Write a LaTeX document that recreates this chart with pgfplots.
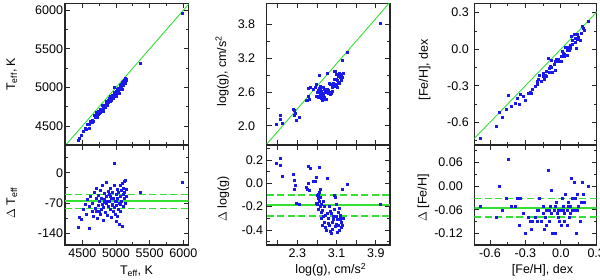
\documentclass[border=0pt]{standalone}
\usepackage{fontspec}
\setmainfont{Liberation Sans}
\usepackage{pgfplots}
\pgfplotsset{compat=1.18}
\definecolor{gl}{RGB}{50,225,50}
\definecolor{pt}{RGB}{25,25,235}
\newcommand{\eff}{\textsubscript{eff}}
\pgfplotsset{
  panel/.style={
    scale only axis, anchor=south west,
    axis line style={line width=1.1pt, black!85},
    every tick/.style={line width=0.8pt, black!85},
    major tick length=5pt, minor tick length=3pt,
    tick align=inside,
    font=\fontsize{12.5}{15}\selectfont,
    every tick label/.append style={font=\fontsize{12.5}{15}\selectfont},
  },
  pts/.style={only marks, mark=square*, mark size=1.0pt, color=pt},
  oneline/.style={draw=gl, line width=0.9pt, mark=none},
  meanline/.style={draw=gl, line width=1.8pt, mark=none},
  sigline/.style={draw=gl, line width=1.4pt, mark=none, dash pattern=on 7pt off 3.5pt},
}
\begin{document}
\begin{tikzpicture}
\path[use as bounding box] (0,0) rectangle (600pt,279pt);
%% ---------------- column 1 : Teff ----------------
\begin{axis}[panel, at={(65pt,134pt)}, width=123.7pt, height=141.7pt,
  xmin=4243, xmax=6080, ymin=4254, ymax=6091,
  xtick={4500,5000,5500,6000}, xticklabels={}, minor xtick={4750,5250,5750},
  ytick={4500,5000,5500,6000}, yticklabels={4500,5000,5500,6000}, minor ytick={4750,5250,5750},
  yticklabel style={xshift=1.5pt},
  ylabel={T\eff, K}, ylabel style={at={(axis description cs:-0.404,0.5)}, anchor=base}]
\addplot[oneline] coordinates {(4200,4200) (6200,6200)};
\addplot[pts] coordinates {
(4440,4314) (4450,4347) (4490,4383) (4595,4467) (4520,4435) (4540,4468) (4560,4465) (4580,4518)
(4600,4522) (4620,4565) (4640,4550) (4650,4580) (4660,4560) (4680,4635) (4690,4608) (4700,4640)
(4710,4675) (4720,4615) (4730,4655) (4740,4688) (4750,4662) (4755,4690) (4760,4720) (4770,4675)
(4780,4722) (4790,4718) (4800,4770) (4805,4695) (4810,4730) (4820,4772) (4830,4768) (4840,4748)
(4850,4827) (4855,4785) (4860,4805) (4870,4772) (4880,4838) (4890,4813) (4900,4835) (4905,4855)
(4910,4825) (4920,4885) (4930,4870) (4935,4833) (4940,4868) (4950,4905) (4955,4867) (4960,4902)
(4970,4942) (4975,4998) (4980,4900) (4985,4920) (4990,4895) (5000,4950) (5005,4893) (5010,4935)
(5015,4977) (5020,4920) (5025,4965) (5030,4945) (5040,4995) (5045,4927) (5050,4980) (5060,5030)
(5065,5010) (5070,4980) (5080,5040) (5085,5020) (5090,5065) (5095,4972) (5100,5050) (5105,5027)
(5110,5075) (5115,5055) (5120,5100) (5125,5080) (5130,5060) (5140,5122) (5145,5107) (5150,5095)
(5360,5314) (5990,5968) (4870,4805) (4780,4695) (4950,4875) (5000,4935) (4700,4610) (4920,4865)
(5060,4988) (4820,4752)};
\end{axis}
\begin{axis}[panel, at={(65pt,34pt)}, width=123.7pt, height=100pt,
  xmin=4243, xmax=6080, ymin=-167, ymax=64,
  xtick={4500,5000,5500,6000}, xticklabels={4500,5000,5500,6000}, minor xtick={4750,5250,5750},
  ytick={-140,-70,0}, yticklabels={-140,-70,0}, minor ytick={-105,-35,35},
  yticklabel style={xshift=1.5pt},
  ylabel={$\Delta$ T\eff}, ylabel style={at={(axis description cs:-0.404,0.42)}, anchor=base},
  xlabel={T\eff, K}, xlabel style={at={(axis description cs:0.578,-0.29)}, anchor=base}]
\addplot[sigline] coordinates {(4243,-50) (6080,-50)};
\addplot[sigline] coordinates {(4243,-83) (6080,-83)};
\addplot[meanline] coordinates {(4243,-66) (6080,-66)};
\addplot[pts] coordinates {
(4440,-126) (4450,-103) (4490,-107) (4595,-128) (4520,-85) (4540,-72) (4560,-95) (4580,-62)
(4600,-78) (4620,-55) (4640,-90) (4650,-70) (4660,-100) (4680,-45) (4690,-82) (4700,-60)
(4710,-35) (4720,-105) (4730,-75) (4740,-52) (4750,-88) (4755,-65) (4760,-40) (4770,-95)
(4780,-58) (4790,-72) (4800,-30) (4805,-110) (4810,-80) (4820,-48) (4830,-62) (4840,-92)
(4850,-23) (4855,-70) (4860,-55) (4870,-98) (4880,-42) (4890,-77) (4900,-65) (4905,-50)
(4910,-85) (4920,-35) (4930,-60) (4935,-102) (4940,-72) (4950,-45) (4955,-88) (4960,-58)
(4970,-28) (4975,23) (4980,-80) (4985,-65) (4990,-95) (5000,-50) (5005,-112) (5010,-75)
(5015,-38) (5020,-100) (5025,-60) (5030,-85) (5040,-45) (5045,-118) (5050,-70) (5060,-30)
(5065,-55) (5070,-90) (5080,-40) (5085,-65) (5090,-25) (5095,-123) (5100,-50) (5105,-78)
(5110,-35) (5115,-60) (5120,-20) (5125,-45) (5130,-70) (5140,-18) (5145,-38) (5150,-55)
(5360,-46) (5990,-22) (4870,-65) (4780,-85) (4950,-75) (5000,-65) (4700,-90) (4920,-55)
(5060,-72) (4820,-68)};
\end{axis}
%% ---------------- column 2 : log g ----------------
\begin{axis}[panel, at={(266.7pt,134pt)}, width=123.3pt, height=141.7pt,
  xmin=1.675, xmax=4.19, ymin=1.66, ymax=4.17,
  xtick={1.9,2.3,2.7,3.1,3.5,3.9}, xticklabels={},
  ytick={2.0,2.6,3.2,3.8}, yticklabels={2.0,2.6,3.2,3.8}, minor ytick={2.3,2.9,3.5},
  yticklabel style={xshift=-8pt},
  ylabel={log(g), cm/s\textsuperscript{2}}, ylabel style={at={(axis description cs:-0.33,0.52)}, anchor=base}]
\addplot[oneline] coordinates {(1.5,1.5) (4.5,4.5)};
\addplot[pts] coordinates {
(1.86,2.03) (1.96,2.18) (1.95,2.11) (1.99,2.05) (2.22,2.30) (2.24,2.27) (2.25,2.23) (2.24,2.19)
(2.27,2.10) (2.33,2.15) (2.52,2.67) (2.56,2.69) (2.75,2.89) (2.48,2.45) (2.50,2.45) (2.54,2.48)
(2.53,2.53) (2.63,2.65) (2.66,2.68) (2.68,2.73) (2.90,2.94) (2.70,2.60) (2.72,2.59) (2.74,2.59)
(2.71,2.53) (2.76,2.56) (2.73,2.51) (2.78,2.53) (2.80,2.57) (2.82,2.54) (2.79,2.49) (2.84,2.51)
(2.81,2.45) (2.86,2.48) (2.88,2.48) (2.85,2.65) (2.75,2.67) (2.69,2.52) (2.77,2.65) (2.83,2.68)
(2.90,2.64) (2.93,2.63) (2.95,2.59) (2.97,2.56) (3.00,2.57) (3.02,2.69) (3.04,2.76) (3.06,2.96)
(3.08,2.96) (3.05,2.83) (3.10,2.92) (3.12,2.81) (3.14,2.78) (3.16,2.76) (3.18,2.89) (3.20,2.87)
(3.13,2.88) (3.15,2.94) (3.19,2.81) (3.21,3.16) (3.31,3.30) (3.99,3.81) (2.98,2.74) (3.01,2.62)
(3.09,2.74) (3.11,2.69) (3.17,2.86) (3.03,2.72) (2.92,2.58) (2.87,2.60) (3.22,2.86) (3.07,2.70)
(2.96,2.76) (2.76,2.71) (3.00,2.74) (3.18,2.91) (3.23,2.93) (2.79,2.61) (2.72,2.63) (3.10,2.82)};
\end{axis}
\begin{axis}[panel, at={(266.7pt,34pt)}, width=123.3pt, height=100pt,
  xmin=1.675, xmax=4.19, ymin=-0.529, ymax=0.329,
  xtick={1.9,2.3,2.7,3.1,3.5,3.9}, xticklabels={,2.3,,3.1,,3.9},
  ytick={-0.4,-0.2,0,0.2}, yticklabels={-0.4,-0.2,0.0,0.2}, minor ytick={-0.5,-0.3,-0.1,0.1,0.3},
  yticklabel style={xshift=0pt},
  ylabel={$\Delta$ log(g)}, ylabel style={at={(axis description cs:-0.325,0.46)}, anchor=base},
  xlabel={log(g), cm/s\textsuperscript{2}}, xlabel style={at={(axis description cs:0.52,-0.29)}, anchor=base}]
\addplot[sigline] coordinates {(1.675,-0.10) (4.19,-0.10)};
\addplot[sigline] coordinates {(1.675,-0.28) (4.19,-0.28)};
\addplot[meanline] coordinates {(1.675,-0.187) (4.19,-0.187)};
\addplot[pts] coordinates {
(1.86,0.17) (1.96,0.22) (1.95,0.16) (1.99,0.06) (2.22,0.08) (2.24,0.03) (2.25,-0.02) (2.24,-0.05)
(2.27,-0.17) (2.33,-0.18) (2.52,0.15) (2.56,0.13) (2.75,0.14) (2.48,-0.03) (2.50,-0.05) (2.54,-0.06)
(2.53,0.00) (2.63,0.02) (2.66,0.02) (2.68,0.05) (2.90,0.04) (2.70,-0.10) (2.72,-0.13) (2.74,-0.15)
(2.71,-0.18) (2.76,-0.20) (2.73,-0.22) (2.78,-0.25) (2.80,-0.23) (2.82,-0.28) (2.79,-0.30) (2.84,-0.33)
(2.81,-0.36) (2.86,-0.38) (2.88,-0.40) (2.85,-0.20) (2.75,-0.08) (2.69,-0.17) (2.77,-0.12) (2.83,-0.15)
(2.90,-0.26) (2.93,-0.30) (2.95,-0.36) (2.97,-0.41) (3.00,-0.43) (3.02,-0.33) (3.04,-0.28) (3.06,-0.10)
(3.08,-0.12) (3.05,-0.22) (3.10,-0.18) (3.12,-0.31) (3.14,-0.36) (3.16,-0.40) (3.18,-0.29) (3.20,-0.33)
(3.13,-0.25) (3.15,-0.21) (3.19,-0.38) (3.21,-0.05) (3.31,-0.01) (3.99,-0.18) (2.98,-0.24) (3.01,-0.39)
(3.09,-0.35) (3.11,-0.42) (3.17,-0.31) (3.03,-0.31) (2.92,-0.34) (2.87,-0.27) (3.22,-0.36) (3.07,-0.37)
(2.96,-0.20) (2.76,-0.05) (3.00,-0.26) (3.18,-0.27) (3.23,-0.30) (2.79,-0.18) (2.72,-0.09) (3.10,-0.28)};
\end{axis}
%% ---------------- column 3 : [Fe/H] ----------------
\begin{axis}[panel, at={(474.3pt,134pt)}, width=122.4pt, height=141.7pt,
  xmin=-0.733, xmax=0.304, ymin=-0.787, ymax=0.377,
  xtick={-0.6,-0.3,0,0.3}, xticklabels={}, minor xtick={-0.45,-0.15,0.15},
  ytick={-0.6,-0.3,0,0.3}, yticklabels={-0.6,-0.3,0.0,0.3}, minor ytick={-0.75,-0.45,-0.15,0.15},
  yticklabel style={xshift=-2pt},
  ylabel={[Fe/H], dex}, ylabel style={at={(axis description cs:-0.38,0.53)}, anchor=base}]
\addplot[oneline] coordinates {(-1,-1) (0.5,0.5)};
\addplot[pts] coordinates {
(-0.68,-0.73) (-0.55,-0.63) (-0.52,-0.52) (-0.50,-0.56) (-0.45,-0.38) (-0.46,-0.49) (-0.42,-0.47) (-0.39,-0.44)
(-0.37,-0.40) (-0.34,-0.37) (-0.35,-0.45) (-0.30,-0.42) (-0.32,-0.39) (-0.28,-0.36) (-0.25,-0.36) (-0.24,-0.33)
(-0.22,-0.30) (-0.20,-0.29) (-0.18,-0.21) (-0.17,-0.26) (-0.15,-0.22) (-0.14,-0.25) (-0.13,-0.21) (-0.12,-0.18)
(-0.11,-0.07) (-0.10,-0.19) (-0.09,-0.14) (-0.08,-0.09) (-0.07,-0.19) (-0.06,-0.12) (-0.05,-0.17) (-0.04,-0.08)
(-0.03,-0.10) (-0.02,-0.08) (-0.01,-0.10) (0.00,-0.06) (0.01,-0.02) (0.02,-0.03) (0.03,-0.04) (0.04,0.02)
(0.05,-0.01) (0.06,0.02) (0.07,-0.01) (0.08,0.03) (0.09,0.11) (0.10,0.07) (0.11,0.12) (0.12,0.06)
(0.13,0.01) (0.14,0.12) (0.15,0.10) (0.16,0.07) (0.18,0.19) (0.19,0.17) (0.20,0.16) (0.23,0.23)
(-0.26,-0.35) (-0.19,-0.25) (-0.08,-0.15) (-0.02,-0.10) (0.03,-0.06) (0.06,0.01) (0.08,0.01) (-0.05,-0.10)
(0.00,-0.10) (0.10,0.04) (0.12,0.09) (-0.12,-0.22) (-0.15,-0.20) (0.05,-0.05) (0.14,0.08) (-0.10,-0.16)
(0.02,-0.04) (-0.20,-0.26) (0.17,0.13)};
\end{axis}
\begin{axis}[panel, at={(474.3pt,34pt)}, width=122.4pt, height=100pt,
  xmin=-0.733, xmax=0.304, ymin=-0.15, ymax=0.105,
  xtick={-0.6,-0.3,0,0.3}, xticklabels={-0.6,-0.3,0.0,0.3}, minor xtick={-0.45,-0.15,0.15},
  ytick={-0.12,-0.06,0,0.06}, yticklabels={-0.12,-0.06,0.00,0.06}, minor ytick={-0.09,-0.03,0.03,0.09},
  yticklabel style={xshift=-8pt},
  ylabel={$\Delta$ [Fe/H]}, ylabel style={at={(axis description cs:-0.39,0.47)}, anchor=base},
  xlabel={[Fe/H], dex}, xlabel style={at={(axis description cs:0.557,-0.29)}, anchor=base}]
\addplot[sigline] coordinates {(-0.733,-0.031) (0.304,-0.031)};
\addplot[sigline] coordinates {(-0.733,-0.079) (0.304,-0.079)};
\addplot[meanline] coordinates {(-0.733,-0.056) (0.304,-0.056)};
\addplot[pts] coordinates {
(-0.68,-0.05) (-0.55,-0.08) (-0.52,0.00) (-0.50,-0.06) (-0.45,0.07) (-0.46,-0.03) (-0.42,-0.05) (-0.39,-0.05)
(-0.37,-0.03) (-0.34,-0.03) (-0.35,-0.10) (-0.30,-0.12) (-0.32,-0.07) (-0.28,-0.08) (-0.25,-0.11) (-0.24,-0.09)
(-0.22,-0.08) (-0.20,-0.09) (-0.18,-0.03) (-0.17,-0.09) (-0.15,-0.07) (-0.14,-0.11) (-0.13,-0.08) (-0.12,-0.06)
(-0.11,0.04) (-0.10,-0.09) (-0.09,-0.05) (-0.08,-0.01) (-0.07,-0.12) (-0.06,-0.06) (-0.05,-0.12) (-0.04,-0.04)
(-0.03,-0.07) (-0.02,-0.06) (-0.01,-0.09) (0.00,-0.06) (0.01,-0.03) (0.02,-0.05) (0.03,-0.07) (0.04,-0.02)
(0.05,-0.06) (0.06,-0.04) (0.07,-0.08) (0.08,-0.05) (0.09,0.02) (0.10,-0.03) (0.11,0.01) (0.12,-0.06)
(0.13,-0.12) (0.14,-0.02) (0.15,-0.05) (0.16,-0.09) (0.18,0.01) (0.19,-0.02) (0.20,-0.04) (0.23,0.00)
(-0.26,-0.09) (-0.19,-0.06) (-0.08,-0.07) (-0.02,-0.08) (0.03,-0.09) (0.06,-0.05) (0.08,-0.07) (-0.05,-0.05)
(0.00,-0.10) (0.10,-0.06) (0.12,-0.03) (-0.12,-0.10) (-0.15,-0.05) (0.05,-0.10) (0.14,-0.06) (-0.10,-0.06)
(0.02,-0.06) (-0.20,-0.06) (0.17,-0.04)};
\end{axis}
\end{tikzpicture}
\end{document}
